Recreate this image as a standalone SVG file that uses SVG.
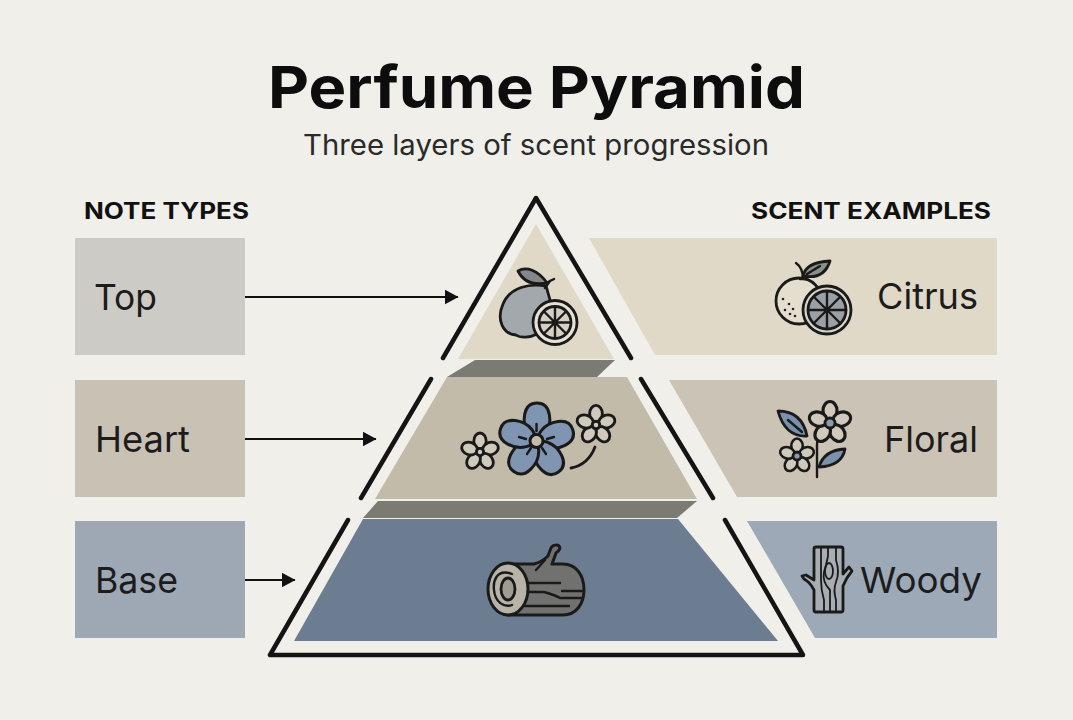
<svg xmlns="http://www.w3.org/2000/svg" width="1073" height="720" viewBox="0 0 1073 720">
<defs>
<marker id="arr" markerWidth="14" markerHeight="15" refX="13.500" refY="7.500" orient="auto" markerUnits="userSpaceOnUse"><path d="M0 0L14 7.500L0 15z" fill="#111"/></marker>
<g id="sflower"><g class="ol" fill="#cfcabc"><ellipse cx="0" cy="-11" rx="6.200" ry="8"/><ellipse cx="0" cy="-11" rx="6.200" ry="8" transform="rotate(72)"/><ellipse cx="0" cy="-11" rx="6.200" ry="8" transform="rotate(144)"/><ellipse cx="0" cy="-11" rx="6.200" ry="8" transform="rotate(216)"/><ellipse cx="0" cy="-11" rx="6.200" ry="8" transform="rotate(288)"/><circle r="3.600"/></g></g>
</defs>
<style>
text{font-family:"Inter","Liberation Sans",sans-serif;fill:#1c1c1c}
.lab{font-size:36px;font-weight:400}
.hd{font-size:23px;font-weight:700;fill:#111}
.ol{stroke:#1a1a1a;stroke-width:2.800;stroke-linejoin:round;stroke-linecap:round}
.ln{fill:none;stroke:#1a1a1a;stroke-width:2.400;stroke-linejoin:round;stroke-linecap:round}
.frame{fill:none;stroke:#141414;stroke-width:4.500;stroke-linejoin:round;stroke-linecap:round}
.conn{stroke:#111;stroke-width:2;fill:none;marker-end:url(#arr)}
</style>
<rect width="1073" height="720" fill="#f0efea"/>
<g id="title">
<text x="536.500" y="108" text-anchor="middle" font-size="58" font-weight="700" textLength="537" lengthAdjust="spacingAndGlyphs" style="fill:#0d0d0d">Perfume Pyramid</text>
<text x="536" y="155" text-anchor="middle" font-size="28" textLength="466" lengthAdjust="spacingAndGlyphs" style="fill:#2a2a2a">Three layers of scent progression</text>
<text x="84" y="219" class="hd" textLength="165" lengthAdjust="spacingAndGlyphs">NOTE TYPES</text>
<text x="751" y="219" class="hd" textLength="240" lengthAdjust="spacingAndGlyphs">SCENT EXAMPLES</text>
</g>
<g id="note-top"><rect x="75" y="238" width="170" height="117" fill="#cdcbc5"/><text x="94" y="310" class="lab" textLength="63" lengthAdjust="spacingAndGlyphs">Top</text></g>
<g id="note-heart"><rect x="75" y="380" width="170" height="117" fill="#c9c2b4"/><text x="95" y="452" class="lab" textLength="95" lengthAdjust="spacingAndGlyphs">Heart</text></g>
<g id="note-base"><rect x="75" y="521" width="170" height="117" fill="#9ea8b5"/><text x="95" y="593" class="lab" textLength="83" lengthAdjust="spacingAndGlyphs">Base</text></g>
<g id="scent-citrus"><path d="M589 238H997V355H655z" fill="#e0d9c8"/><text x="877" y="309" class="lab" textLength="101" lengthAdjust="spacingAndGlyphs">Citrus</text>
<g>
<circle cx="799" cy="301" r="23" fill="#e4decf" class="ol"/>
<path d="M803 279Q803 268 796 263M800 279h6" class="ln"/>
<path d="M803 276Q806 262 830 261Q824 280 803 276z" fill="#8b8f8c" class="ol"/>
<path d="M807 274L820 266" class="ln"/>
<g fill="#222"><circle cx="783" cy="299" r="1.300"/><circle cx="789" cy="304" r="1.300"/><circle cx="785" cy="310" r="1.300"/><circle cx="793" cy="309" r="1.300"/><circle cx="790" cy="314" r="1.300"/><circle cx="795" cy="316" r="1.300"/></g>
<circle cx="827" cy="310" r="24" fill="#d8d4c8" class="ol"/>
<circle cx="827" cy="310" r="19" fill="#9aa0a4" class="ol"/>
<path d="M827 291V329M808 310H846M814 297L840 323M814 323L840 297" class="ln"/>
</g></g>
<g id="scent-floral"><path d="M669 380H997V497H737z" fill="#cbc3b5"/><text x="884" y="452" class="lab" textLength="94" lengthAdjust="spacingAndGlyphs">Floral</text>
<g>
<path d="M817 477V445Q817 438 821 432" class="ln"/>
<use href="#sflower" transform="translate(830 423) scale(1.130)"/>
<circle cx="830" cy="423" r="5" fill="#8a9bb0" class="ol"/>
<use href="#sflower" transform="translate(797 456) scale(0.920)"/>
<circle cx="797" cy="456" r="4" fill="#8a9bb0" class="ol"/>
<path d="M778 411Q802 411 807 436Q785 437 778 411z" fill="#7b90ab" class="ol"/>
<path d="M788 420L802 432" class="ln"/>
<path d="M819 467Q824 450 845 449Q842 466 819 467z" fill="#7b90ab" class="ol"/>
</g></g>
<g id="scent-woody"><path d="M747 521H997V638H815z" fill="#9ea9b7"/><text x="860" y="593" class="lab" textLength="122" lengthAdjust="spacingAndGlyphs">Woody</text>
<g>
<path d="M814 549Q814 547 816 547H841Q843 547 843 549V574L849 567L852 571Q846 578 843 586V610Q843 612 841 612H816Q814 612 814 610V590Q810 582 804 579L802 576L806 575L814 580z" fill="#a7adb3" class="ol"/>
<path d="M821 548V580Q821 590 824 600V611M828 548V556Q826 566 824 572Q822 582 830 590V611M836 548V560Q840 572 836 582Q833 590 836 600V611" class="ln" style="stroke-width:1.800"/>
<ellipse cx="829" cy="571" rx="4" ry="8" class="ln" style="stroke-width:1.800"/>
</g></g>
<g id="pyramid-top"><path d="M536 224L614 359H458z" fill="#e0d9c8"/>
<path d="M447 377L475 360H615L597 377z" fill="#7b7a73"/>
<g>
<path d="M546 286C530 283 510 287 503 304C496 320 503 334 516 335C520 338 530 338 537 334L552 306C549 298 548 292 546 286z" fill="#a2a8ab" class="ol"/>
<path d="M518 271C526 266 538 270 547 283C536 285 524 283 518 271z" fill="#85888a" class="ol"/>
<path d="M546 283L554 279M545 288L550 281" class="ln"/>
<circle cx="555" cy="322.500" r="22" fill="#e7e2d6" class="ol"/>
<circle cx="555" cy="322.500" r="16" fill="#d6d0c2" class="ol"/>
<path d="M555 306.500V338.500M539 322.500H571M544 311.500L566 333.500M544 333.500L566 311.500" class="ln"/>
</g></g>
<g id="pyramid-heart"><path d="M447 377H627L697 499H375z" fill="#c3bbaa"/>
<path d="M363 518L378 501H697L677 518z" fill="#7c7b72"/>
<g>
<g class="ol" fill="#7f95b1" style="stroke-width:3">
<path d="M528 433C522 424 522 403 537 403C552 403 552 424 546 433C542 440 532 440 528 433z"/>
<path d="M528 433C522 424 522 403 537 403C552 403 552 424 546 433C542 440 532 440 528 433z" transform="rotate(72 536.500 441)"/>
<path d="M528 433C522 424 522 403 537 403C552 403 552 424 546 433C542 440 532 440 528 433z" transform="rotate(144 536.500 441)"/>
<path d="M528 433C522 424 522 403 537 403C552 403 552 424 546 433C542 440 532 440 528 433z" transform="rotate(216 536.500 441)"/>
<path d="M528 433C522 424 522 403 537 403C552 403 552 424 546 433C542 440 532 440 528 433z" transform="rotate(288 536.500 441)"/>
<circle cx="536.500" cy="441" r="6.500" fill="#c5bdab"/></g>
<path d="M536.500 424V431M519 437L526 439M554 437L547 439M527 454L531 448M546 454L542 448" class="ln"/>
<use href="#sflower" transform="translate(480 452) scale(1)"/>
<use href="#sflower" transform="translate(596 425) scale(1.030)"/>
<path d="M571 468Q588 465 595 447" class="ln" style="stroke-width:2.800"/>
</g></g>
<g id="pyramid-base"><path d="M363 519H678L778 641H294z" fill="#6c7d92"/>
<g>
<path d="M508 564H534Q542 562 548 556L551 548C552 545 558 544 559 546C561 548 559 551 556 553L552 564H563C576 564 584 575 584 590C584 604 576 615 563 615H508z" fill="#717270" class="ol" style="stroke-width:3"/>
<ellipse cx="508" cy="589" rx="20" ry="26" fill="#b8b3a8" class="ol" style="stroke-width:3"/>
<path d="M512 574C496 568 493 582 494 590C495 602 504 608 512 605" class="ln"/>
<ellipse cx="508" cy="589" rx="7" ry="11" fill="#a09b90" class="ol"/>
<path d="M527 583H560M528 592H544Q555 595 560 598H582M562 591H582M525 606H569M536 570L545 560" class="ln"/>
</g></g>
<g id="pyramid-frame">
<path class="frame" d="M443 358L536 198L631 358"/>
<path class="frame" d="M361 498L431 379M641 379L713 498"/>
<path class="frame" d="M348 520L270 655H803L725 520"/>
</g>
<g id="connectors">
<path class="conn" d="M245 297H458"/>
<path class="conn" d="M245 439H376"/>
<path class="conn" d="M245 580H295"/>
</g>
</svg>
